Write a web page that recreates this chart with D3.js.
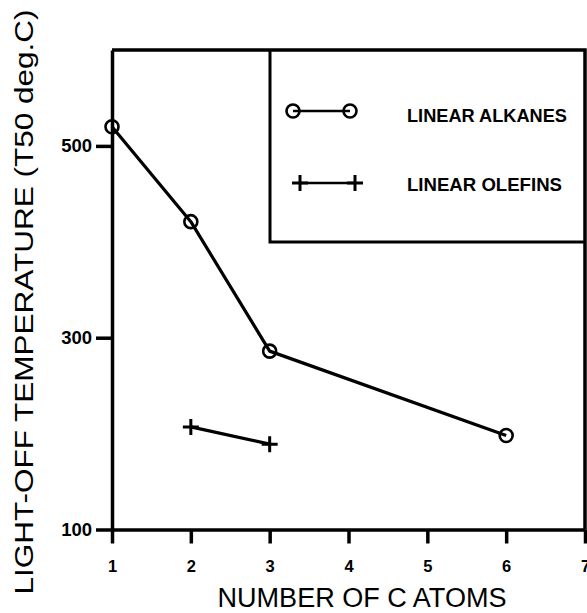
<!DOCTYPE html>
<html>
<head>
<meta charset="utf-8">
<script src="https://cdn.jsdelivr.net/npm/d3@7/dist/d3.min.js"></script>
<style>
  html, body { margin: 0; padding: 0; background: #fff; }
  svg { display: block; }
</style>
</head>
<body>
<svg id="chart" width="587" height="613"></svg>
<script>
// Light-off temperature versus chain length
const carbonAtoms = [1, 2, 3, 6];
const alkaneT50 = [520, 421, 286, 198];
const olefinAtoms = [2, 3];
const olefinT50 = [207, 189];
const xTicks = [1, 2, 3, 4, 5, 6, 7];
const yTicks = [100, 300, 500];
const seriesNames = ["LINEAR ALKANES", "LINEAR OLEFINS"];

const svg = d3.select("#chart");
const x = d3.scaleLinear().domain([1, 7]).range([112, 585]);
const y = d3.scaleLinear().domain([100, 600]).range([529.5, 50]);

const ink = "#000";
const axisW = 3.5;
const font = "'Liberation Sans', Arial, Helvetica, sans-serif";

// frame top and right
svg.append("path")
  .attr("d", `M${x(1)},${y(600)}H${x(7)}V${y(100)}`)
  .attr("fill", "none").attr("stroke", ink).attr("stroke-width", axisW);

// x axis
const xAxis = svg.append("g")
  .attr("transform", `translate(0,${y(100)})`)
  .call(d3.axisBottom(x).tickValues(xTicks).tickSize(14).tickSizeOuter(0).tickPadding(17).tickFormat(d3.format("d")));
xAxis.select(".domain").attr("stroke-width", axisW).attr("stroke", ink);
xAxis.selectAll(".tick line").attr("stroke-width", axisW).attr("stroke", ink);
xAxis.selectAll(".tick text")
  .attr("font-family", font).attr("font-weight", "bold").attr("font-size", 16.5).attr("fill", ink);

// y axis
const yAxis = svg.append("g")
  .attr("transform", `translate(${x(1)},0)`)
  .call(d3.axisLeft(y).tickValues(yTicks).tickSize(16).tickSizeOuter(0).tickPadding(4).tickFormat(d3.format("d")));
yAxis.select(".domain").attr("stroke-width", axisW).attr("stroke", ink);
yAxis.selectAll(".tick line").attr("stroke-width", axisW).attr("stroke", ink);
yAxis.selectAll(".tick text")
  .attr("font-family", font).attr("font-weight", "bold").attr("font-size", 18.5).attr("fill", ink);

// axis titles
svg.append("text")
  .attr("x", 362).attr("y", 607)
  .attr("text-anchor", "middle")
  .attr("font-family", font).attr("font-size", 27)
  .attr("textLength", 289).attr("lengthAdjust", "spacingAndGlyphs")
  .text("NUMBER OF C ATOMS");

svg.append("text")
  .attr("transform", "translate(33,302) rotate(-90)")
  .attr("text-anchor", "middle")
  .attr("font-family", font).attr("font-size", 26)
  .attr("textLength", 585).attr("lengthAdjust", "spacingAndGlyphs")
  .text("LIGHT-OFF TEMPERATURE (T50 deg.C)");

// series lines
const line = d3.line().x(d => x(d[0])).y(d => y(d[1]));
const alk = carbonAtoms.map((c, i) => [c, alkaneT50[i]]);
const ole = olefinAtoms.map((c, i) => [c, olefinT50[i]]);

svg.append("path").attr("d", line(alk))
  .attr("fill", "none").attr("stroke", ink).attr("stroke-width", 3.2).attr("stroke-linejoin", "round");
svg.append("path").attr("d", line(ole))
  .attr("fill", "none").attr("stroke", ink).attr("stroke-width", 3.2);

function circleMark(g, cx, cy) {
  g.append("circle").attr("cx", cx).attr("cy", cy).attr("r", 6.5)
    .attr("fill", "none").attr("stroke", ink).attr("stroke-width", 2.6);
}
function plusMark(g, cx, cy) {
  g.append("path").attr("d", `M${cx - 8},${cy}H${cx + 8}M${cx},${cy - 8}V${cy + 8}`)
    .attr("stroke", ink).attr("stroke-width", 3);
}

alk.forEach(d => circleMark(svg, x(d[0]), y(d[1])));
ole.forEach(d => plusMark(svg, x(d[0]), y(d[1])));

// legend box
svg.append("path")
  .attr("d", `M270,${y(600)}V242H${x(7)}`)
  .attr("fill", "none").attr("stroke", ink).attr("stroke-width", 3);

const lg = svg.append("g");
lg.append("line").attr("x1", 293).attr("x2", 350).attr("y1", 111).attr("y2", 111)
  .attr("stroke", ink).attr("stroke-width", 2.6);
circleMark(lg, 293, 111);
circleMark(lg, 350, 111);
lg.append("line").attr("x1", 300).attr("x2", 355).attr("y1", 183).attr("y2", 183)
  .attr("stroke", ink).attr("stroke-width", 2.6);
plusMark(lg, 300, 183);
plusMark(lg, 355, 183);

lg.append("text").attr("x", 407).attr("y", 122)
  .attr("font-family", font).attr("font-weight", "bold").attr("font-size", 18)
  .attr("textLength", 160).attr("lengthAdjust", "spacingAndGlyphs")
  .text(seriesNames[0]);
lg.append("text").attr("x", 407).attr("y", 191)
  .attr("font-family", font).attr("font-weight", "bold").attr("font-size", 18)
  .attr("textLength", 155).attr("lengthAdjust", "spacingAndGlyphs")
  .text(seriesNames[1]);
</script>
</body>
</html>
